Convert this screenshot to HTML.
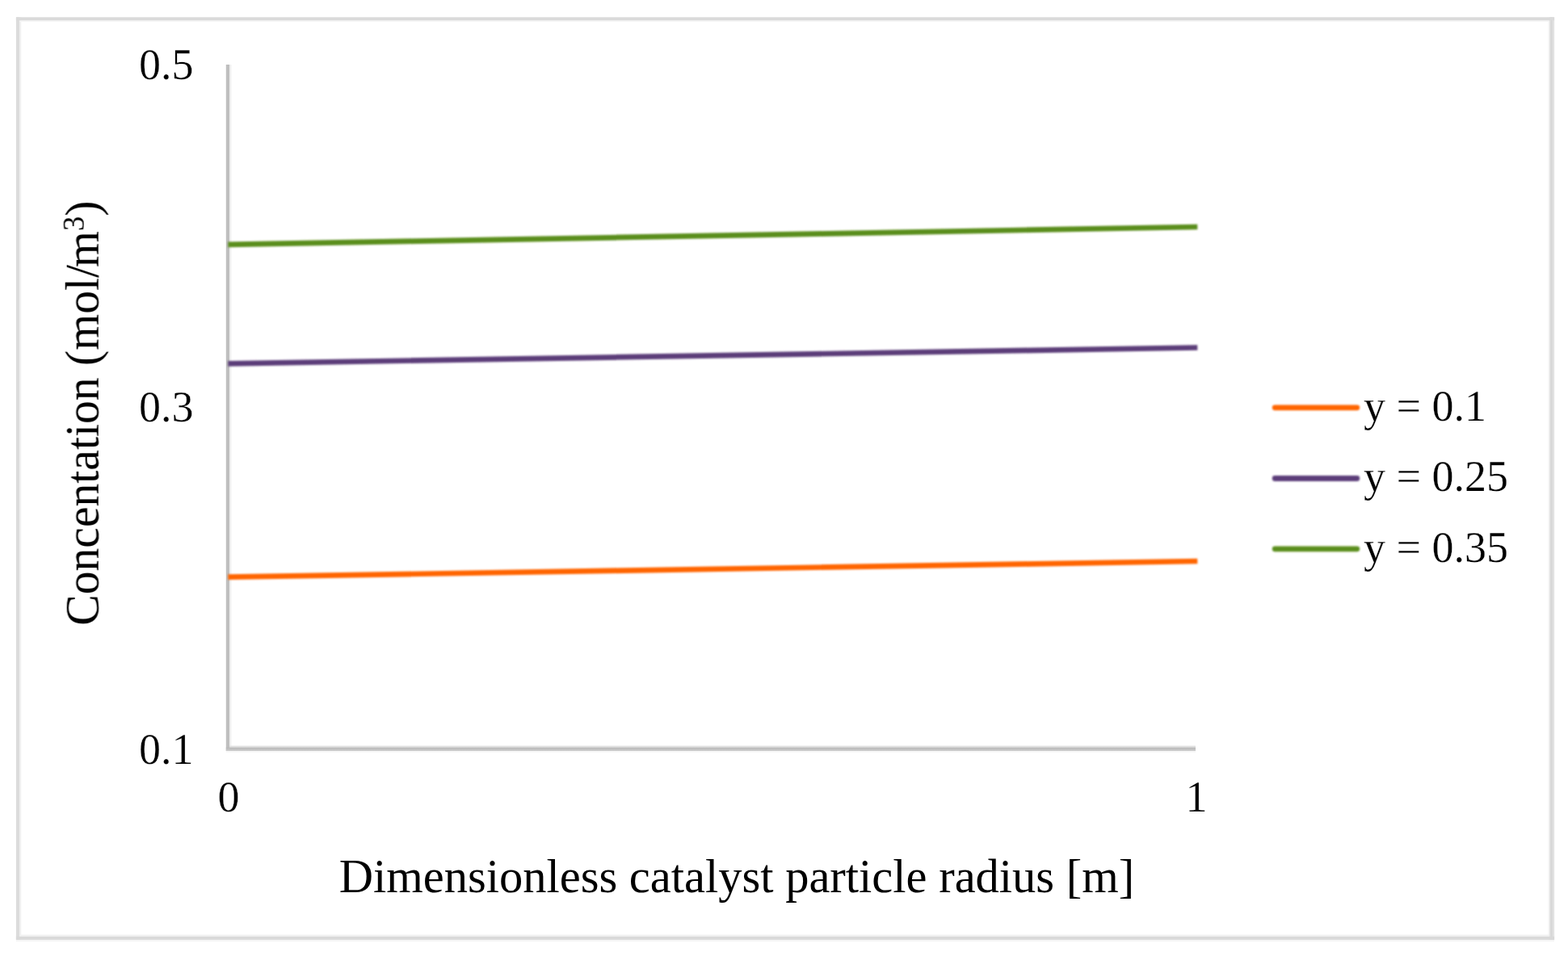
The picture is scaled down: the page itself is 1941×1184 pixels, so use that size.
<!DOCTYPE html>
<html lang="en">
<head>
<meta charset="utf-8">
<title>Concentration vs dimensionless catalyst particle radius</title>
<style>
  html, body { margin: 0; padding: 0; background: #ffffff; }
  body { width: 1941px; height: 1184px; overflow: hidden; }
  svg { display: block; }
  text {
    font-family: "Liberation Serif", serif;
    fill: #000000;
  }
  .tick { font-size: 54px; stroke: #ffffff; stroke-width: 0.25px; stroke-linejoin: round; }
  .title { font-size: 58.5px; }
  .sup { font-size: 37px; }
  .series line { stroke-width: 6.7; }
  .legend line { stroke-width: 6.8; stroke-linecap: round; }
  .orange { stroke: #ff6500; }
  .purple { stroke: #5c3c79; }
  .green  { stroke: #5a8e1b; }
</style>
</head>
<body>
<svg width="1941" height="1184" viewBox="0 0 1941 1184">
  <defs>
    <linearGradient id="axisX" x1="0" y1="0" x2="0" y2="1">
      <stop offset="0" stop-color="#b7b7b7"/>
      <stop offset="1" stop-color="#cccccc"/>
    </linearGradient>
    <filter id="softLine" x="-5%" y="-400%" width="110%" height="900%" filterUnits="objectBoundingBox">
      <feGaussianBlur stdDeviation="1.3"/>
    </filter>
    <filter id="softEdge" x="-2%" y="-2%" width="104%" height="104%">
      <feGaussianBlur stdDeviation="0.6"/>
    </filter>
    <filter id="softText" x="-5%" y="-10%" width="110%" height="120%">
      <feGaussianBlur stdDeviation="0.5"/>
    </filter>
  </defs>

  <rect x="0" y="0" width="1941" height="1184" fill="#ffffff"/>

  <!-- chart frame -->
  <g id="frame" filter="url(#softEdge)">
    <!-- faint inner / outer bands -->
    <rect x="24"     y="21.3"   width="2.2"    height="1142.6" fill="#f0f0f0"/>
    <rect x="1916.2" y="21.3"   width="1.7"    height="1142.6" fill="#f8f8f8"/>
    <rect x="19.9"   y="25.3"   width="1904.2" height="1.7"    fill="#f5f5f5"/>
    <rect x="19.9"   y="1157.6" width="1904.2" height="2.3"    fill="#f1f1f1"/>
    <rect x="19.9"   y="1163.9" width="1904.2" height="2.3"    fill="#f5f5f5"/>
    <!-- border lines -->
    <rect x="19.9"   y="21.3"   width="4.1"    height="1142.6" fill="#dcdcdc"/>
    <rect x="1917.9" y="21.3"   width="6.2"    height="1142.6" fill="#e2e2e2"/>
    <rect x="1919.6" y="21.3"   width="2.2"    height="1142.6" fill="#d7d7d7"/>
    <rect x="19.9"   y="21.3"   width="1904.2" height="4"      fill="#dadada"/>
    <rect x="19.9"   y="1159.9" width="1904.2" height="4"      fill="#d9d9d9"/>
  </g>

  <!-- axes -->
  <g id="axes" filter="url(#softEdge)">
    <rect x="284"   y="80"    width="2.3"    height="845.6" fill="#efefef"/>
    <rect x="284"   y="923.6" width="1196"   height="2"     fill="#e0e0e0"/>
    <rect x="279.8" y="930"   width="1200.2" height="2"     fill="#f7f7f7"/>
    <rect x="279.8" y="80"    width="4.2"    height="850"   fill="#bfbfbf"/>
    <rect x="279.8" y="925.6" width="1200.2" height="4.4"   fill="url(#axisX)"/>
  </g>

  <!-- series -->
  <g class="series" filter="url(#softLine)">
    <line class="green"  x1="282.3" y1="302.9" x2="1482.3" y2="281.0"/>
    <line class="purple" x1="282.3" y1="450.3" x2="1482.3" y2="430.5"/>
    <line class="orange" x1="282.3" y1="714.6" x2="1482.3" y2="695.0"/>
  </g>

  <g id="labels" filter="url(#softText)">
  <!-- y tick labels -->
  <g class="tick" text-anchor="end">
    <text x="239.6" y="97.6">0.5</text>
    <text x="239.6" y="521.8">0.3</text>
    <text x="239.6" y="945.7">0.1</text>
  </g>

  <!-- x tick labels -->
  <g class="tick" text-anchor="middle">
    <text x="283" y="1005.4">0</text>
    <text x="1481" y="1005.4">1</text>
  </g>

  <!-- axis titles -->
  <text class="title" x="912" y="1105" text-anchor="middle">Dimensionless catalyst particle radius [m]</text>
  <text class="title" transform="translate(121.7 511.8) rotate(-90) scale(0.986 1)" text-anchor="middle">Concentation (mol/<tspan dx="-3">m</tspan><tspan class="sup" dy="-18.5">3</tspan><tspan dy="18.5">)</tspan></text>
  </g>

  <!-- legend -->
  <g class="legend">
    <g filter="url(#softLine)">
      <line class="orange" x1="1578.2" y1="504.8" x2="1679.8" y2="504.8"/>
      <line class="purple" x1="1578.2" y1="592.5" x2="1679.8" y2="592.5"/>
      <line class="green"  x1="1578.2" y1="679.8" x2="1679.8" y2="679.8"/>
    </g>
    <g class="tick" filter="url(#softText)">
      <text x="1688" y="521">y = 0.1</text>
      <text x="1688" y="608.4">y = 0.25</text>
      <text x="1688" y="695.5">y = 0.35</text>
    </g>
  </g>
</svg>
</body>
</html>
